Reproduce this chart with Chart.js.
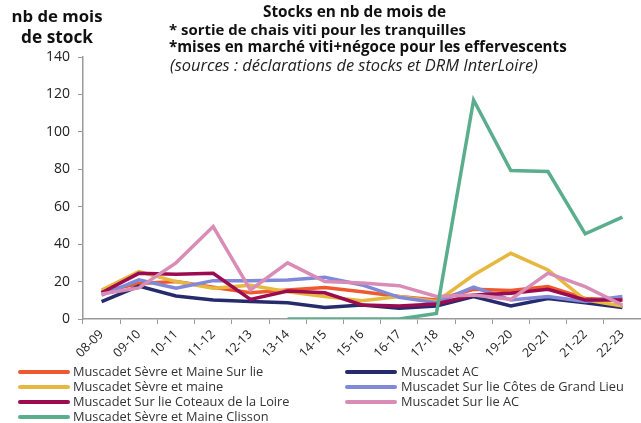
<!DOCTYPE html>
<html>
<head>
<meta charset="utf-8">
<script src="https://cdn.jsdelivr.net/npm/chart.js@4/dist/chart.umd.min.js"></script>
<style>
  html, body { margin: 0; padding: 0; background: #fff; }
  #wrap { width: 641px; height: 423px; position: relative; }
</style>
</head>
<body>
<div id="wrap"><canvas id="myChart"></canvas></div>
<script>
// campagnes
const campagnes = ["08-09", "09-10", "10-11", "11-12", "12-13", "13-14", "14-15", "15-16",
  "16-17", "17-18", "18-19", "19-20", "20-21", "21-22", "22-23"];

// nb de mois de stock
const sevreMaineSurLie = [14.6, 19, 20, 17, 14, 15.5, 16.8, 14.6, 12, 10.2, 15.9, 15.2, 17.3, 11, 10.2];
const muscadetAC = [9.3, 17.6, 12.3, 10.2, 9.3, 8.7, 6.2, 7.5, 5.7, 7, 12, 7, 11, 8.7, 6.2];
const sevreMaine = [15.5, 25.3, 20, 16.4, 18, 14.6, 12, 9.8, 12, 9.3, 23.5, 35.1, 26.2, 10.2, 7];
const grandLieu = [12.8, 20.9, 16.4, 20.5, 20.5, 20.9, 22.3, 18.2, 11.6, 8.7, 17, 10.2, 12, 9.3, 12];
const coteauxLoire = [14, 24.4, 23.9, 24.4, 10.5, 15, 14, 7.5, 7, 8, 12.8, 13.7, 15.9, 10.2, 10.2];
const surLieAC = [13.4, 16.6, 30, 49.4, 15.5, 30, 20, 19.2, 17.8, 12, 12.8, 10.5, 24.5, 17.3, 7.5];
const clisson = [null, null, null, null, null, 0, 0, 0, 0, 3, 117, 79.3, 78.8, 45.5, 54.4];

const yTicks = [0, 20, 40, 60, 80, 100, 120, 140];

const police = "'Open Sans', 'DejaVu Sans', sans-serif";

// titre, légende et libellé d'axe dessinés à la main
const decor = {
  id: 'decor',
  afterDraw(chart) {
    const c = chart.ctx;
    c.save();
    c.fillStyle = '#111';
    c.textBaseline = 'middle';

    // ajuste la taille pour tenir dans une largeur donnée
    function texte(t, x, y, w, style, align) {
      let size = 14;
      c.font = style + ' ' + size + 'px ' + police;
      size = size * w / c.measureText(t).width;
      c.font = style + ' ' + size.toFixed(2) + 'px ' + police;
      c.textAlign = align || 'left';
      c.fillText(t, x, y);
    }

    texte('nb de mois', 57, 17, 91, 'bold', 'center');
    texte('de stock', 57, 38, 72, 'bold', 'center');

    texte('Stocks en nb de mois de', 263, 13, 183, 'bold');
    texte('* sortie de chais viti pour les tranquilles', 169, 31, 297, 'bold');
    texte('*mises en marché viti+négoce pour les effervescents', 169, 48, 398, 'bold');
    c.fillStyle = '#222';
    texte('(sources : déclarations de stocks et DRM InterLoire)', 170, 66, 368, 'italic');

    // légende sur deux colonnes
    const colLigne = [20, 347];
    const colTexte = [73, 401];
    c.font = '12.8px ' + police;
    c.textAlign = 'left';
    chart.data.datasets.forEach((ds, i) => {
      const col = i % 2, row = Math.floor(i / 2);
      const y = 372 + row * 15;
      c.strokeStyle = ds.borderColor;
      c.lineWidth = 4;
      c.lineCap = 'round';
      c.beginPath();
      c.moveTo(colLigne[col], y);
      c.lineTo(colLigne[col] + 48, y);
      c.stroke();
      c.fillStyle = '#333';
      c.fillText(ds.label, colTexte[col], y);
    });
    c.restore();
  }
};

const ctx = document.getElementById('myChart').getContext('2d');

function serie(label, data, color, order) {
  return {
    label: label,
    data: data,
    borderColor: color,
    backgroundColor: color,
    borderWidth: 3.5,
    pointRadius: 0,
    tension: 0,
    spanGaps: false,
    order: order
  };
}

const myChart = new Chart(ctx, {
  type: 'line',
  data: {
    labels: campagnes,
    datasets: [
      serie('Muscadet Sèvre et Maine Sur lie', sevreMaineSurLie, '#EE5A2E', 7),
      serie('Muscadet AC', muscadetAC, '#262B6E', 6),
      serie('Muscadet Sèvre et maine', sevreMaine, '#E7B840', 5),
      serie('Muscadet Sur lie Côtes de Grand Lieu', grandLieu, '#8088D8', 4),
      serie('Muscadet Sur lie Coteaux de la Loire', coteauxLoire, '#9C0B50', 3),
      serie('Muscadet Sur lie AC', surLieAC, '#D98DB6', 2),
      serie('Muscadet Sèvre et Maine Clisson', clisson, '#5BAE8D', 1)
    ]
  },
  options: {
    responsive: true,
    maintainAspectRatio: false,
    animation: false,
    layout: { padding: { top: 57, left: 0, right: 0, bottom: 58 } },
    plugins: {
      legend: { display: false },
      tooltip: { enabled: false }
    },
    scales: {
      x: {
        offset: true,
        grid: { offset: true, drawOnChartArea: false, drawTicks: true, tickLength: 5, color: '#9a9a9a' },
        border: { color: '#9a9a9a', width: 1.5 },
        ticks: {
          minRotation: 45, maxRotation: 45, autoSkip: false,
          color: '#222', padding: 3,
          font: { family: police, size: 12.5 }
        },
        afterFit: s => { s.height = 46; }
      },
      y: {
        min: 0, max: 140,
        afterBuildTicks: s => { s.ticks = yTicks.map(v => ({ value: v })); },
        grid: { drawOnChartArea: false, drawTicks: true, tickLength: 5, color: '#9a9a9a' },
        border: { color: '#9a9a9a', width: 1.5 },
        ticks: {
          color: '#222', padding: 8,
          font: { family: police, size: 14 }
        },
        afterFit: s => { s.width = 83; }
      }
    }
  },
  plugins: [decor]
});
</script>
</body>
</html>
